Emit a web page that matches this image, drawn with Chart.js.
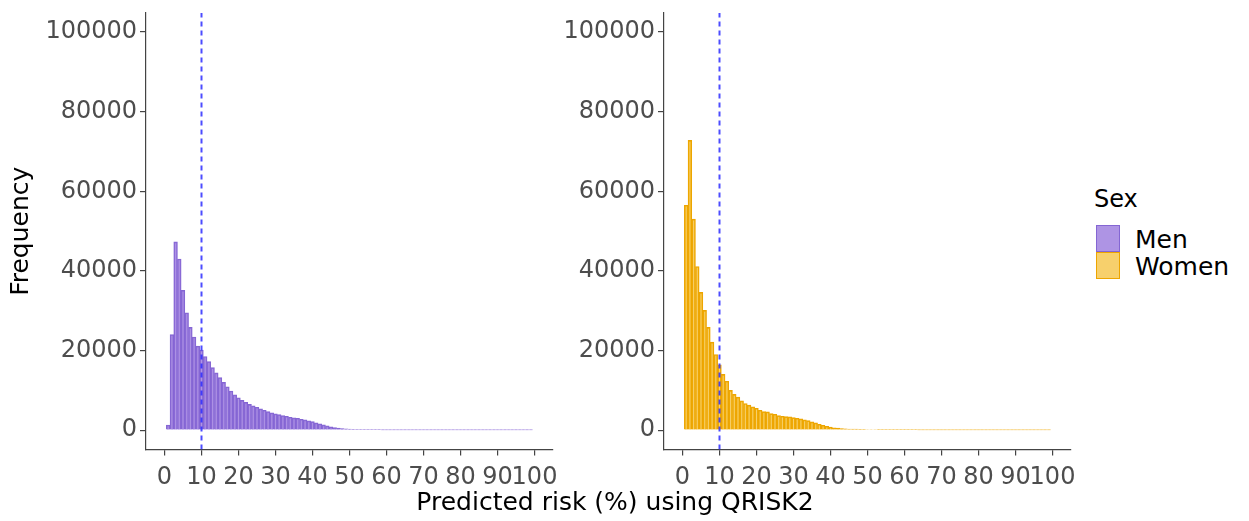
<!DOCTYPE html>
<html>
<head>
<meta charset="utf-8">
<script src="https://cdn.jsdelivr.net/npm/chart.js@4/dist/chart.umd.min.js"></script>
<style>
  body { margin: 0; background: #fff; font-family: "DejaVu Sans", sans-serif; }
  #wrap { position: relative; width: 1249px; height: 521px; overflow: hidden; }
  .panel { position: absolute; top: 0; height: 521px; }
  #xtitle { position: absolute; left: 315px; width: 600px; top: 489px; text-align: center; font-size: 25px; line-height: 25px; color: #000; }
  #legend { position: absolute; left: 1094px; top: 187px; font-size: 24px; line-height: 25px; color: #000; }
  .key { position: absolute; left: 2px; width: 22px; height: 25px; border: 1px solid; }
  .lab { position: absolute; left: 41px; white-space: nowrap; font-size: 25px; }
</style>
</head>
<body>
<div id="wrap">
  <div class="panel" style="left:0;width:573px"><canvas id="menChart"></canvas></div>
  <div class="panel" style="left:560px;width:531px"><canvas id="womenChart"></canvas></div>
  <div id="xtitle">Predicted risk (%) using QRISK2</div>
  <div id="legend">
    <div>Sex</div>
    <div class="key" style="top:38px;background:rgba(147,112,219,0.75);border-color:#8466D3"></div>
    <div class="lab" style="top:40px">Men</div>
    <div class="key" style="top:65px;background:rgba(242,176,10,0.6);border-color:#EDA500"></div>
    <div class="lab" style="top:67px">Women</div>
  </div>
</div>
<script>
// histogram bins (predicted risk %, width 1)
let bins = [];
for (let b = 1; b <= 99; b++) bins.push(b);

// counts per bin
let menCounts = [
  1300, 24000, 47300, 43000, 35100, 29500, 25800, 23400, 21100, 20100,
  18500, 17200, 15700, 14400, 13200, 12000, 10900, 9850, 8850, 8150,
  7500, 7000, 6500, 6100, 5750, 5350, 5000, 4650, 4350, 4100,
  3900, 3650, 3500, 3250, 3100, 3000, 2750, 2600, 2350, 2150,
  1850, 1600, 1350, 1100, 850, 650, 500, 400, 320, 280,
  240, 200, 150, 150, 150, 150, 150, 150, 40, 40,
  40, 40, 40, 40, 40, 40, 40, 40, 40, 40,
  40, 40, 40, 40, 40, 40, 40, 40, 40, 40,
  40, 40, 40, 40, 40, 40, 40, 40, 40, 40,
  40, 40, 40, 40, 40, 40, 40, 40, 40
];
let womenCounts = [
  56500, 72800, 53000, 41100, 34600, 30100, 25800, 22100, 19000, 16400,
  14000, 12300, 10000, 9000, 8300, 7350, 6700, 6300, 5850, 5500,
  5000, 4650, 4600, 4150, 4000, 3650, 3500, 3400, 3350, 3150,
  3000, 2850, 2600, 2400, 2100, 1850, 1500, 1250, 1000, 750,
  600, 500, 400, 350, 300, 270, 250, 220, 200, 180,
  170, 160, 130, 130, 130, 130, 130, 130, 130, 130,
  130, 130, 130, 40, 40, 40, 40, 40, 40, 40,
  40, 40, 40, 40, 40, 40, 40, 40, 40, 40,
  40, 40, 40, 40, 40, 40, 40, 40, 40, 40,
  40, 40, 40, 40, 40, 40, 40, 40, 40
];

let xTicks = [0, 10, 20, 30, 40, 50, 60, 70, 80, 90, 100];
let yTicks = [0, 20000, 40000, 60000, 80000, 100000];
let cutoff = 10; // 10% threshold line
let yMin = -4850, yMax = 104770;

const tickFont = { family: 'DejaVu Sans', size: 24 };
const axisColor = '#444444';

function makePanel(canvasId, counts, fill, edge, yWidth, showTitle) {
  let ctx = document.getElementById(canvasId).getContext('2d');
  return new Chart(ctx, {
    type: 'bar',
    data: {
      datasets: [
        {
          type: 'line',
          data: [{ x: cutoff, y: yMin }, { x: cutoff, y: yMax }],
          borderColor: 'rgba(45,45,255,0.85)',
          borderWidth: 2,
          borderDash: [5, 4],
          pointRadius: 0,
          order: 0
        },
        {
          data: bins.map((b, i) => ({ x: b, y: counts[i] })),
          backgroundColor: fill,
          borderColor: edge,
          borderWidth: 1,
          barPercentage: 1,
          categoryPercentage: 1,
          order: 1
        }
      ]
    },
    options: {
      responsive: true,
      maintainAspectRatio: false,
      animation: false,
      layout: { padding: { top: 13, right: 20, bottom: 0, left: 0 } },
      plugins: { legend: { display: false }, tooltip: { enabled: false } },
      scales: {
        x: {
          type: 'linear',
          min: -5,
          max: 105,
          offset: false,
          afterFit: s => { s.height = 71.5; },
          afterBuildTicks: s => { s.ticks = xTicks.map(v => ({ value: v })); },
          ticks: { font: tickFont, color: '#4D4D4D', maxRotation: 0, autoSkip: false, padding: 8,
                   callback: v => String(v) },
          grid: { display: true, offset: false, drawOnChartArea: false, drawTicks: true, tickLength: 6, color: axisColor, lineWidth: 1.2 },
          border: { display: true, color: axisColor, width: 1.2 }
        },
        y: {
          min: yMin,
          max: yMax,
          afterFit: s => { s.width = yWidth; s.paddingTop = 0; s.paddingBottom = 0; },
          afterBuildTicks: s => { s.ticks = yTicks.map(v => ({ value: v })); },
          ticks: { font: tickFont, color: '#4D4D4D', padding: 3, callback: v => String(v) },
          grid: { display: true, drawOnChartArea: false, drawTicks: true, tickLength: 6, color: axisColor, lineWidth: 1.2 },
          border: { display: true, color: axisColor, width: 1.2 },
          title: { display: showTitle, text: 'Frequency', color: '#000',
                   font: { family: 'DejaVu Sans', size: 25 }, padding: { top: 6, bottom: 0 } }
        }
      }
    }
  });
}

let menChart = makePanel('menChart', menCounts, 'rgba(147,112,219,0.75)', '#8466D3', 146, true);
let womenChart = makePanel('womenChart', womenCounts, 'rgba(242,176,10,0.6)', '#EDA500', 104, false);
</script>
</body>
</html>
